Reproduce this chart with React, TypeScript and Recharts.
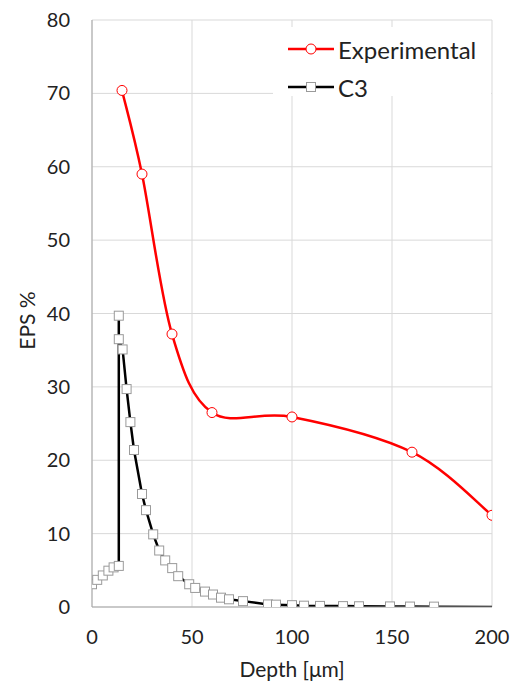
import React from 'react';
import { LineChart, Line, XAxis, YAxis, CartesianGrid, Legend } from 'recharts';

// Measured EPS profile (depth in µm, EPS in %)
const expDepth = [15, 25, 40, 60, 100, 160, 200];
const expEps = [70.4, 59.0, 37.2, 26.5, 25.9, 21.1, 12.5];

// C3 simulation profile (depth in µm, EPS in %)
const c3Depth = [
  0, 2.6, 5.4, 8.2, 10.8, 13.4, 13.4, 13.4, 15.3, 17.3, 19.2, 21.0, 25.0, 27.0,
  30.6, 33.6, 36.6, 40.1, 43.1, 48.6, 51.6, 56.5, 60.5, 64.5, 68.5, 75.5, 88,
  92, 100, 106, 114, 125.5, 133.5, 149, 159, 171, 200,
];
const c3Eps = [
  3.1, 3.7, 4.3, 4.95, 5.4, 5.6, 39.7, 36.5, 35.1, 29.7, 25.2, 21.4, 15.4, 13.2,
  9.9, 7.7, 6.35, 5.3, 4.2, 3.1, 2.6, 2.1, 1.7, 1.27, 1.05, 0.8, 0.35, 0.32,
  0.25, 0.18, 0.15, 0.12, 0.1, 0.08, 0.06, 0.05, 0,
];

const xTicks = [0, 50, 100, 150, 200];
const yTicks = [0, 10, 20, 30, 40, 50, 60, 70, 80];

const expData = expDepth.map((x, i) => ({ x, y: expEps[i] }));
const c3Data = c3Depth.map((x, i) => ({ x, y: c3Eps[i] }));

const FONT = 'Lato, "Open Sans", sans-serif';
const TEXT = '#222';
const GRID = '#d9d9d9';
const AXIS = '#a6a6a6';

// Spreadsheet-style smoothed line: cubic Bezier through every point,
// tangents taken from the neighbouring points (Catmull-Rom, 1/6 factor).
function smoothCurve(context: any) {
  let pts: number[][] = [];
  return {
    areaStart() {},
    areaEnd() {},
    lineStart() {
      pts = [];
    },
    point(x: number, y: number) {
      pts.push([+x, +y]);
    },
    lineEnd() {
      const n = pts.length;
      if (!n) return;
      context.moveTo(pts[0][0], pts[0][1]);
      for (let i = 0; i < n - 1; i++) {
        const p0 = pts[Math.max(0, i - 1)];
        const p1 = pts[i];
        const p2 = pts[i + 1];
        const p3 = pts[Math.min(n - 1, i + 2)];
        context.bezierCurveTo(
          p1[0] + (p2[0] - p0[0]) / 6,
          p1[1] + (p2[1] - p0[1]) / 6,
          p2[0] - (p3[0] - p1[0]) / 6,
          p2[1] - (p3[1] - p1[1]) / 6,
          p2[0],
          p2[1]
        );
      }
    },
  };
}

const SquareDot = (props: any) => {
  const { cx, cy, index } = props;
  if (index === c3Data.length - 1 || cx == null || cy == null) {
    return <g key={`sq-${index}`} />;
  }
  return (
    <rect
      key={`sq-${index}`}
      x={cx - 4.5}
      y={cy - 4.5}
      width={9}
      height={9}
      fill="#fff"
      stroke="#9a9a9a"
      strokeWidth={1}
    />
  );
};

const LegendBox = () => (
  <div
    style={{
      background: '#fff',
      fontFamily: FONT,
      fontSize: 24,
      color: TEXT,
      padding: '3px 0 0 15px',
      height: 69,
      boxSizing: 'border-box',
    }}
  >
    <div style={{ display: 'flex', alignItems: 'center', height: 38 }}>
      <svg width={46} height={20} style={{ marginRight: 4 }}>
        <line x1={0} y1={10} x2={46} y2={10} stroke="#ff0000" strokeWidth={2.5} />
        <circle cx={23} cy={10} r={5} fill="#fff" stroke="#ff0000" strokeWidth={1} />
      </svg>
      <span>Experimental</span>
    </div>
    <div style={{ display: 'flex', alignItems: 'center', height: 38 }}>
      <svg width={46} height={20} style={{ marginRight: 4 }}>
        <line x1={0} y1={10} x2={46} y2={10} stroke="#000" strokeWidth={2.5} />
        <rect x={18.5} y={5.5} width={9} height={9} fill="#fff" stroke="#9a9a9a" strokeWidth={1} />
      </svg>
      <span>C3</span>
    </div>
  </div>
);

export default function App() {
  return (
    <div style={{ position: 'absolute', left: 0, top: 0, width: 513, height: 683 }}>
      <LineChart
        width={513}
        height={683}
        margin={{ top: 20, right: 21, bottom: 6, left: 32 }}
        style={{ fontFamily: FONT }}
      >
        <CartesianGrid stroke={GRID} strokeWidth={1} />
        <XAxis
          type="number"
          dataKey="x"
          domain={[0, 200]}
          ticks={xTicks}
          allowDataOverflow
          height={70}
          tickLine={false}
          tickSize={6}
          tickMargin={17}
          axisLine={{ stroke: AXIS, strokeWidth: 1 }}
          tick={{ fill: TEXT, fontSize: 20, fontFamily: FONT }}
          label={{
            content: (p: any) => {
              const vb = p.viewBox || {};
              return (
                <text
                  x={vb.x + vb.width / 2}
                  y={vb.y + 61}
                  textAnchor="middle"
                  dominantBaseline="central"
                  fill={TEXT}
                  fontSize={21}
                  fontFamily={FONT}
                >
                  Depth [μm]
                </text>
              );
            },
          }}
        />
        <YAxis
          type="number"
          dataKey="y"
          domain={[0, 80]}
          ticks={yTicks}
          allowDataOverflow
          width={60}
          tickLine={false}
          tickSize={6}
          tickMargin={16}
          axisLine={{ stroke: AXIS, strokeWidth: 1 }}
          tick={{ fill: TEXT, fontSize: 20, fontFamily: FONT }}
          label={{
            content: (p: any) => {
              const vb = p.viewBox || {};
              const cx = 26;
              const cy = vb.y + vb.height / 2 + 7;
              return (
                <text
                  x={cx}
                  y={cy}
                  transform={`rotate(-90, ${cx}, ${cy})`}
                  textAnchor="middle"
                  dominantBaseline="central"
                  fill={TEXT}
                  fontSize={21}
                  fontFamily={FONT}
                >
                  EPS %
                </text>
              );
            },
          }}
        />
        <Legend
          layout="vertical"
          align="center"
          verticalAlign="middle"
          content={<LegendBox />}
          wrapperStyle={{ top: 27, left: 273, width: 218, height: 69 }}
        />
        <Line
          data={c3Data}
          dataKey="y"
          name="C3"
          type="linear"
          stroke="#000"
          strokeWidth={2.5}
          dot={SquareDot}
          activeDot={false}
          isAnimationActive={false}
        />
        <Line
          data={expData}
          dataKey="y"
          name="Experimental"
          type={smoothCurve as any}
          stroke="#ff0000"
          strokeWidth={2.5}
          dot={{ r: 5, fill: '#fff', stroke: '#ff0000', strokeWidth: 1 }}
          activeDot={false}
          isAnimationActive={false}
        />
      </LineChart>
    </div>
  );
}
